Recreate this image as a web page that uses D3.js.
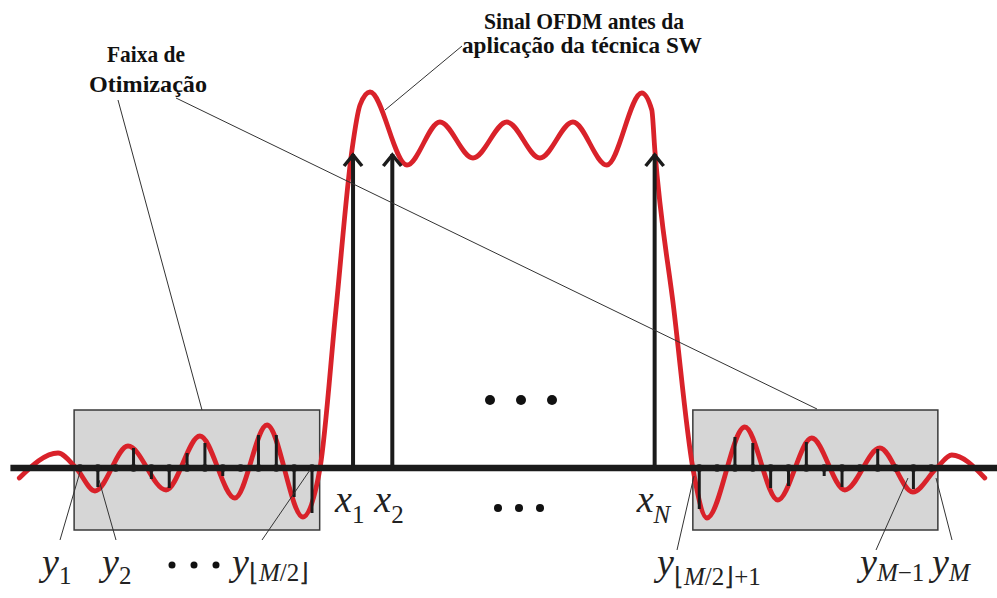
<!DOCTYPE html>
<html><head><meta charset="utf-8">
<script src="https://cdn.jsdelivr.net/npm/d3@7"></script>
<style>html,body{margin:0;padding:0;background:#fff;}svg{display:block;}</style>
</head><body>
<svg id="c" width="997" height="598"></svg>
<script>
// frequency unit = spacing of optimization samples; amplitude in arbitrary units
const signalF = [-3.4,-1.23,-0.22,0.84,2.69,4.82,6.72,8.68,10.48,12.49,13.45,14.34,15.24,15.69,16.25,18.32,20.17,22.02,23.92,25.77,27.62,29.52,31.48,32.04,32.21,33.28,34.34,35.13,37.25,39.1,41.0,42.86,44.82,46.67,48.0,48.85,50.7];
const signalA = [-1.0,1.5,0,-2.3,2.2,-2.2,3.2,-3.0,4.3,-4.9,0,15.8,31.8,36.3,37.6,30.3,34.6,31.0,34.6,31.0,34.6,30.3,37.5,35.8,31.8,15.8,0,-5.0,4.1,-3.2,3.0,-2.2,2.0,-2.4,0,1.3,-1.0];

const leftStemF = [0,1,2,3,4,5,6,7,8,9,10,11,12,13];
const leftStemA = [0,-1.9,0,2.0,-1.1,-2.0,1.5,2.5,-0.8,-0.3,3.3,3.3,-2.9,-4.5];
const rightStemF = [34.7,35.7,36.7,37.7,38.7,39.7,40.7,41.7,42.7,43.7,44.7,45.7,46.7,47.7];
const rightStemA = [-4.1,0,3.1,2.5,-2.0,-1.8,2.6,-0.8,-1.9,0,1.9,0,-2.1,0];

const arrowF = [15.3,17.5,32.2];
const arrowA = [31.5,31.5,31.5];
const arrowLabels = ["1","2","N"];

const boxes = [[-0.33,13.43],[34.34,48.07]];
const boxA = [5.8,-6.2];
const axisF = [-3.9,51.4];

const svg = d3.select("#c");
const x = d3.scaleLinear().domain([0,13]).range([80,312]);
const y = d3.scaleLinear().domain([0,10]).range([468,368]);
const RED = "#d9222a";
const SERIF = "Liberation Serif, Times New Roman, serif";

// boxes
svg.selectAll("rect.box").data(boxes).join("rect")
  .attr("x",d=>x(d[0])).attr("width",d=>x(d[1])-x(d[0]))
  .attr("y",y(boxA[0])).attr("height",y(boxA[1])-y(boxA[0]))
  .attr("fill","#d6d6d6").attr("stroke","#3a3a3a").attr("stroke-width",1.5);

// signal
const pts = signalF.map((f,i)=>[f,signalA[i]]);
svg.append("path").datum(pts)
  .attr("d",d3.line().x(d=>x(d[0])).y(d=>y(d[1])).curve(d3.curveMonotoneX))
  .attr("fill","none").attr("stroke",RED).attr("stroke-width",4.8).attr("stroke-linecap","round");

// axis
svg.append("line").attr("x1",x(axisF[0])).attr("x2",x(axisF[1])).attr("y1",y(0)).attr("y2",y(0))
  .attr("stroke","#1b1b1b").attr("stroke-width",6.5);

// stems
const stems = leftStemF.map((f,i)=>[f,leftStemA[i]]).concat(rightStemF.map((f,i)=>[f,rightStemA[i]]));
svg.selectAll("line.stem").data(stems).join("line")
  .attr("x1",d=>x(d[0])).attr("x2",d=>x(d[0])).attr("y1",y(0)).attr("y2",d=>y(d[1]))
  .attr("stroke","#1b1b1b").attr("stroke-width",3);
svg.selectAll("circle.dot").data(stems).join("circle")
  .attr("cx",d=>x(d[0])).attr("cy",y(0)).attr("r",3.8).attr("fill","#1b1b1b");

// arrows
const arrows = arrowF.map((f,i)=>[f,arrowA[i]]);
const ag = svg.selectAll("g.arrow").data(arrows).join("g");
ag.append("line").attr("x1",d=>x(d[0])).attr("x2",d=>x(d[0])).attr("y1",y(0)).attr("y2",d=>y(d[1])+1)
  .attr("stroke","#1b1b1b").attr("stroke-width",4);
ag.append("path").attr("d",d=>`M${x(d[0])-9},${y(d[1])+13}L${x(d[0])},${y(d[1])+2}L${x(d[0])+9},${y(d[1])+13}`)
  .attr("fill","none").attr("stroke","#1b1b1b").attr("stroke-width",3.5);

// ellipsis dots
const dotRows = [{cx:[490,521,552],cy:400,r:5},{cx:[498,519,540],cy:508,r:4},{cx:[172,194,216],cy:565,r:3.5}];
dotRows.forEach(r=>r.cx.forEach(cx=>svg.append("circle").attr("cx",cx).attr("cy",r.cy).attr("r",r.r).attr("fill","#111")));

// leader lines
const leaders = [[118,100,202,410],[176,98,817,409],[462,46,385,110],
  [80,472,60,540],[99,480,116,540],[310,470,262,540],[694,476,677,550],[908,478,876,550],[936,478,952,540]];
svg.selectAll("line.lead").data(leaders).join("line")
  .attr("x1",d=>d[0]).attr("y1",d=>d[1]).attr("x2",d=>d[2]).attr("y2",d=>d[3])
  .attr("stroke","#333").attr("stroke-width",1);

// bold titles
const T = (t,cx,by,len)=>svg.append("text").attr("x",cx).attr("y",by).attr("text-anchor","middle")
  .attr("font-family",SERIF).attr("font-weight","bold").attr("font-size",23)
  .attr("textLength",len).attr("lengthAdjust","spacingAndGlyphs")
  .attr("fill","#111").text(t);
T("Sinal OFDM antes da",584,29,200);
T("aplicação da técnica SW",582,53,240);
T("Faixa de",146,62,78);
T("Otimização",148,92,118);

// math labels: pieces [text, italic]
function lab(cx,by,base,sub,subdy){
  const t = svg.append("text").attr("x",cx).attr("y",by)
   .attr("font-family",SERIF).attr("font-style","italic").attr("font-size",38).attr("fill","#222");
  t.append("tspan").text(base);
  sub.forEach((p,i)=>{
    const s = t.append("tspan").attr("font-size",25).attr("font-style",p[1]?"italic":"normal").text(p[0]);
    if(i===0) s.attr("dy",subdy);
  });
}
arrows.forEach((d,i)=>lab(x(d[0])-18,512,"x",[[arrowLabels[i],arrowLabels[i]==="N"]],11));
lab(42,575,"y",[["1",false]],9);
lab(102,575,"y",[["2",false]],9);
lab(232,575,"y",[["⌊",false],["M",true],["/2⌋",false]],6);
lab(657,575,"y",[["⌊",false],["M",true],["/2⌋+1",false]],10);
lab(860,575,"y",[["M",true],["−1",false]],6);
lab(932,575,"y",[["M",true]],6);
</script>
</body></html>
